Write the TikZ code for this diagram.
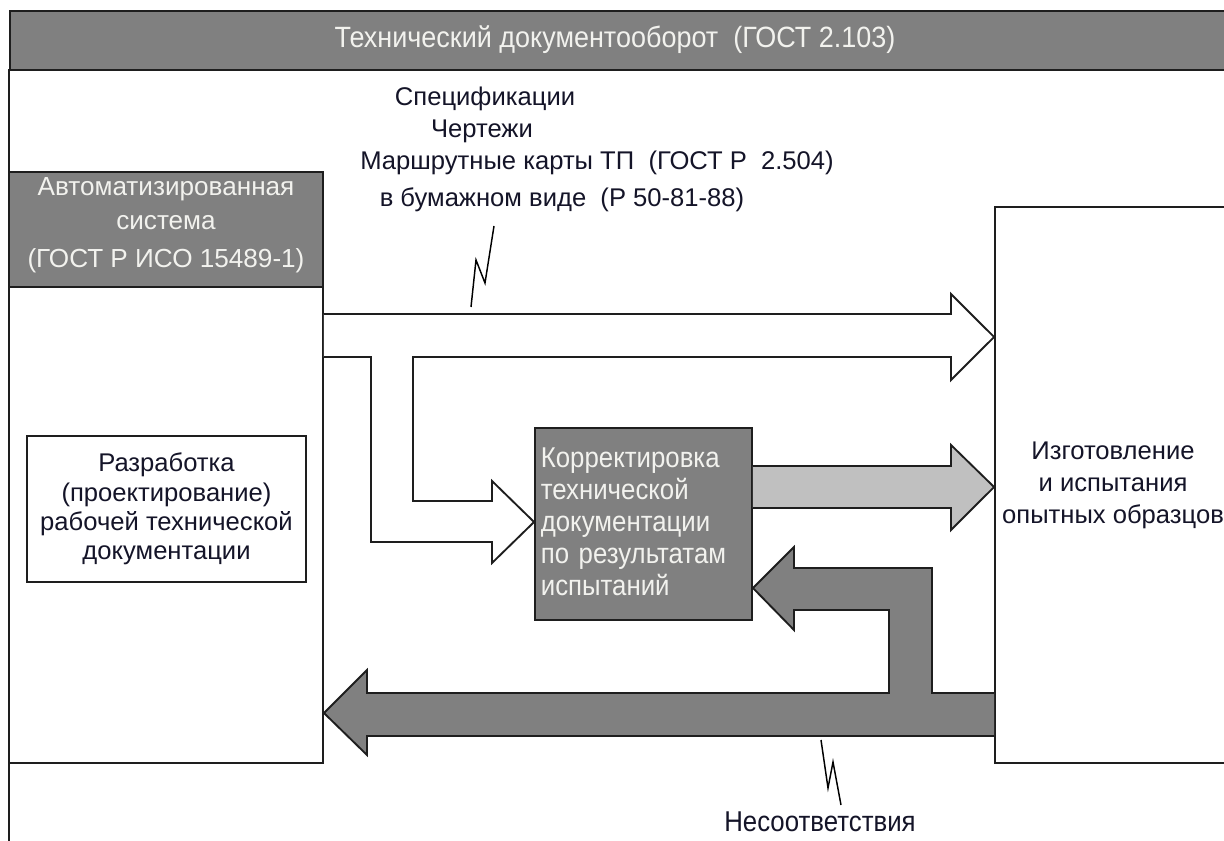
\documentclass[tikz,border=0pt]{standalone}
\usepackage{fontspec}
\setmainfont{Liberation Sans}
\newfontfamily\narrowsans[FakeStretch=0.9]{Liberation Sans}
\newfontfamily\titlesans[FakeStretch=0.92]{Liberation Sans}
\definecolor{barGray}{HTML}{808080}
\definecolor{lightArrow}{HTML}{C0C0C0}
\definecolor{ink}{HTML}{141428}
\definecolor{paleText}{HTML}{F2F2EE}
\definecolor{edge}{HTML}{1E1E1E}

\begin{document}
\begin{tikzpicture}[x=0.75pt, y=-0.75pt, line join=miter,
  outline/.style={draw=edge, line width=1.4pt},
  boxnode/.style={outline, rectangle, inner sep=0pt},
  body/.style={font=\fontsize{19.2pt}{22pt}\selectfont, text=ink, align=center, inner sep=0pt},
  narrowtext/.style={font=\narrowsans\fontsize{21.5pt}{24pt}\selectfont, inner sep=0pt},
  leader/.style={draw=black, line width=1.1pt}]
\useasboundingbox (0,0) rectangle (1224,841);
\clip (0,0) rectangle (1224,841);
\fill[white] (0,0) rectangle (1224,841);

% frame: title bar and left rule
\draw[outline] (9,69) -- (9,850);
\node[boxnode, fill=barGray, minimum width=924pt, minimum height=44.25pt, anchor=north west] (bar) at (9,10) {};
\node[inner sep=0pt, text=paleText, font=\titlesans\fontsize{22pt}{24pt}\selectfont] (title) at (615,40)
      {Технический документооборот~ (ГОСТ 2.103)};

% automated system column
\node[boxnode, fill=white, minimum width=235.5pt, minimum height=357pt] (aisBody) at (166,525) {};
\node[boxnode, fill=barGray, minimum width=235.5pt, minimum height=86.25pt] (aisHead) at (166,229.5) {};
\node[body, text=paleText, font=\fontsize{19.6pt}{25.5pt}\selectfont] (aisHeadText) at (166,225)
      {Автоматизированная\\система\\[3pt](ГОСТ Р ИСО 15489-1)};
\node[boxnode, fill=white, minimum width=209.25pt, minimum height=109.5pt, body] (dev) at (166.5,509)
      {Разработка\\(проектирование)\\рабочей технической\\документации};

% correction and manufacturing blocks
\node[boxnode, fill=barGray, minimum width=162.75pt, minimum height=144pt] (korr) at (643.5,524) {};
\node[narrowtext, text=paleText, text width=154pt, align=left,
      font=\narrowsans\fontsize{21.5pt}{24pt}\selectfont] (korrText) at (643.5,521.5)
      {Корректировка\\технической\\документации\\по результатам\\испытаний};
\node[boxnode, fill=white, minimum width=177pt, minimum height=417pt, body,
      font=\fontsize{19.2pt}{24pt}\selectfont] (mfg) at (1113,485)
      {Изготовление\\и испытания\\опытных образцов};

% documentation flow (white block arrow with a branch to the correction block)
\draw[outline, fill=white] (aisBody.east |- 0,314) -- (951,314) -- (951,294) -- (mfg.west |- 0,337)
  -- (951,380) -- (951,357) -- (413,357) -- (413,501) -- (492,501) -- (492,481)
  -- (korr.west |- 0,522) -- (492,563) -- (492,542) -- (371,542) -- (371,357)
  -- (aisBody.east |- 0,357);

% corrected documentation
\draw[outline, fill=lightArrow] (korr.east |- 0,466) -- (951,466) -- (951,445) -- (mfg.west |- 0,487)
  -- (951,530) -- (951,508) -- (korr.east |- 0,508);

% nonconformities fed back
\draw[outline, fill=barGray] (mfg.west |- 0,693) -- (932,693) -- (932,568) -- (794,568) -- (794,547)
  -- (korr.east |- 0,588) -- (794,630) -- (794,610) -- (889,610) -- (889,693) -- (367,693)
  -- (367,670) -- (aisBody.east |- 0,713) -- (367,755) -- (367,736) -- (mfg.west |- 0,736);

% labels of the flows
\node[body] (spec1) at (485,99) {Спецификации};
\node[body] (spec2) at (482,131) {Чертежи};
\node[body] (spec3) at (597,163) {Маршрутные карты ТП~ (ГОСТ Р~ 2.504)};
\node[body] (spec4) at (562,200) {в бумажном виде~ (Р 50-81-88)};
\node[narrowtext, text=ink] (ncLabel) at (820,822) {Несоответствия};

% squiggle leaders
\coordinate (sqTopEnd) at (471,307);
\coordinate (sqTopStart) at (494,226);
\draw[leader] (sqTopEnd) -- (476,260) -- (485,283) -- (sqTopStart);
\coordinate (sqLowStart) at (821,740);
\coordinate (sqLowEnd) at (841,805);
\draw[leader] (sqLowStart) -- (828,788) -- (833,762) -- (sqLowEnd);
\end{tikzpicture}
\end{document}
